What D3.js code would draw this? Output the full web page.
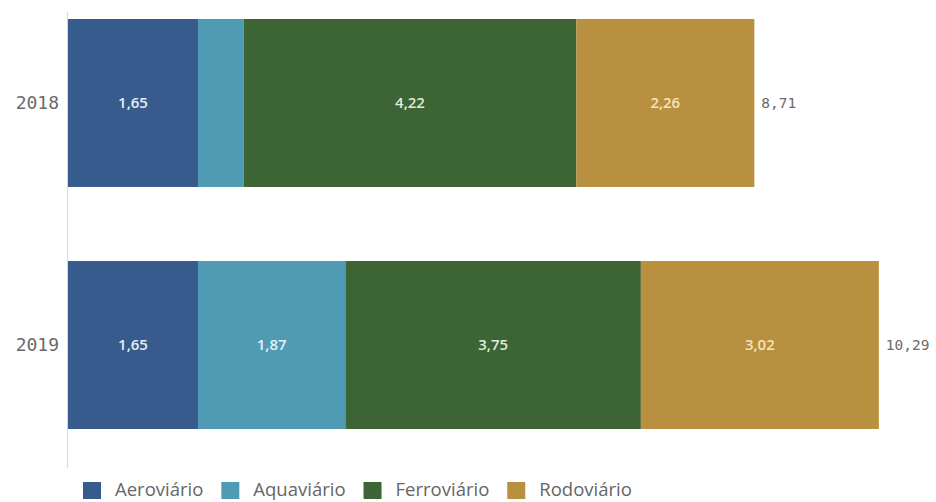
<!DOCTYPE html>
<html><head><meta charset="utf-8">
<script src="https://cdn.jsdelivr.net/npm/d3@7"></script>
<style>body{margin:0;background:#fff}svg{display:block}</style>
</head><body>
<script>
const years = ["2018", "2019"];
const seriesNames = ["Aeroviário", "Aquaviário", "Ferroviário", "Rodoviário"];
const aeroviario = [1.65, 1.65];
const aquaviario = [0.58, 1.87];
const ferroviario = [4.22, 3.75];
const rodoviario = [2.26, 3.02];
const totals = [8.71, 10.29];
const colors = ["#365b8c", "#4f9bb3", "#3c6435", "#b8903f"];
const labelColors = ["#e6edf5", "#e6eef3", "#dfeadb", "#f4e4b8"];

const W = 936, H = 502;
const svg = d3.select("body").append("svg").attr("width", W).attr("height", H);

const rows = years.map((y, i) => ({year: y, "Aeroviário": aeroviario[i], "Aquaviário": aquaviario[i], "Ferroviário": ferroviario[i], "Rodoviário": rodoviario[i], total: totals[i]}));
const stack = d3.stack().keys(seriesNames)(rows);

const x = d3.scaleLinear().domain([0, 11]).range([68, 68 + 11 * 78.8]);
const y = d3.scaleBand().domain(years).range([19, 429]).paddingInner(0.306).paddingOuter(0);
const fmt = v => d3.format(".2f")(v).replace(".", ",");

// axis line
svg.append("line").attr("x1", 67.5).attr("x2", 67.5).attr("y1", 12).attr("y2", 468)
  .attr("stroke", "#d9d9d9").attr("stroke-width", 1);

const layers = svg.selectAll("g.layer").data(stack).join("g").attr("class", "layer");
layers.each(function(s, si) {
  const g = d3.select(this);
  g.selectAll("rect").data(s).join("rect")
    .attr("x", d => x(d[0])).attr("width", d => x(d[1]) - x(d[0]))
    .attr("y", d => y(d.data.year)).attr("height", y.bandwidth())
    .attr("fill", colors[si]);
  g.selectAll("text").data(s.filter(d => (x(d[1]) - x(d[0])) > 60)).join("text")
    .attr("x", d => (x(d[0]) + x(d[1])) / 2)
    .attr("y", d => y(d.data.year) + y.bandwidth() / 2)
    .attr("dy", "0.35em").attr("text-anchor", "middle")
    .attr("font-family", "'Open Sans', sans-serif").attr("font-weight", 600).attr("font-size", 15)
    .attr("fill", labelColors[si])
    .text(d => fmt(d[1] - d[0]));
});

// year labels
svg.selectAll("text.year").data(years).join("text").attr("class", "year")
  .attr("x", 59).attr("y", d => y(d) + y.bandwidth() / 2).attr("dy", "0.35em")
  .attr("text-anchor", "end").attr("font-family", "'DejaVu Sans Mono', monospace")
  .attr("font-size", 18).attr("fill", "#6a6a6a").text(d => d);

// totals
svg.selectAll("text.total").data(rows).join("text").attr("class", "total")
  .attr("x", d => x(d.total) + 7).attr("y", d => y(d.year) + y.bandwidth() / 2).attr("dy", "0.35em")
  .attr("font-family", "'DejaVu Sans Mono', monospace").attr("font-size", 14.5)
  .attr("fill", "#6a6a6a").text(d => fmt(d.total));

// legend
const legend = svg.append("g");
let lx = 83;
seriesNames.forEach((n, i) => {
  legend.append("rect").attr("x", lx).attr("y", 482).attr("width", 18).attr("height", 17).attr("fill", colors[i]);
  const t = legend.append("text").attr("x", lx + 32).attr("y", 496)
    .attr("font-family", "'Open Sans', sans-serif").attr("font-size", 18.5).attr("fill", "#666")
    .text(n);
  lx += 32 + t.node().getComputedTextLength() + 18;
});
</script>
</body></html>
